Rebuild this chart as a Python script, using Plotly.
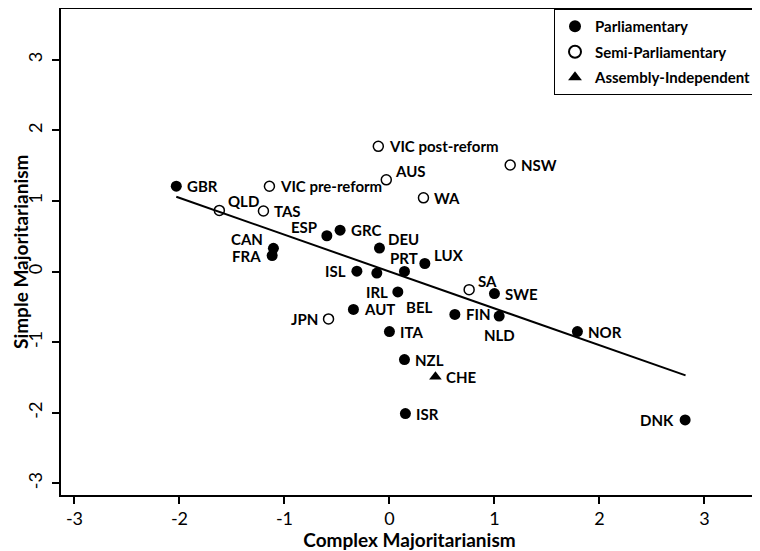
import plotly.graph_objects as go

# ---- data ----
parl_names = ["GBR", "CAN", "FRA", "ESP", "GRC", "DEU", "ISL", "IRL", "PRT", "LUX",
              "BEL", "AUT", "ITA", "NZL", "ISR", "FIN", "SWE", "NLD", "NOR", "DNK"]
parl_x = [-2.03, -1.105, -1.117, -0.596, -0.47, -0.095, -0.31, -0.12, 0.143, 0.337,
          0.08, -0.343, 0.0, 0.143, 0.152, 0.623, 1.0, 1.045, 1.79, 2.816]
parl_y = [1.21, 0.33, 0.227, 0.508, 0.587, 0.334, 0.007, -0.02, 0.003, 0.115,
          -0.288, -0.536, -0.849, -1.246, -2.01, -0.606, -0.311, -0.629, -0.849, -2.10]

semi_names = ["QLD", "VIC pre-reform", "TAS", "VIC post-reform", "AUS", "WA", "NSW", "SA", "JPN"]
semi_x = [-1.62, -1.143, -1.2, -0.106, -0.03, 0.324, 1.15, 0.759, -0.58]
semi_y = [0.867, 1.21, 0.858, 1.775, 1.30, 1.045, 1.51, -0.255, -0.67]

assem_names = ["CHE"]
assem_x = [0.438]
assem_y = [-1.49]

fit_x = [-2.03, 2.82]
fit_y = [1.06, -1.47]

x_ticks = [-3, -2, -1, 0, 1, 2, 3]
y_ticks = [-3, -2, -1, 0, 1, 2, 3]

x_title = "Complex Majoritarianism"
y_title = "Simple Majoritarianism"

# ---- label placement (style) ----
label_pos = {
    "CAN": "ul", "ESP": "ul", "FRA": "l", "ISL": "l", "JPN": "l", "DNK": "l",
    "QLD": "ur", "DEU": "ur", "LUX": "ur", "AUS": "ur", "SA": "ur",
    "PRT": "u", "NLD": "d", "IRL": "d", "BEL": "dr",
}
pos_style = {
    "r":  dict(xanchor="left", yanchor="middle", xshift=9, yshift=0),
    "l":  dict(xanchor="right", yanchor="middle", xshift=-9, yshift=0),
    "ur": dict(xanchor="left", yanchor="middle", xshift=7, yshift=9),
    "ul": dict(xanchor="right", yanchor="middle", xshift=-8, yshift=9),
    "u":  dict(xanchor="center", yanchor="middle", xshift=0, yshift=13),
    "d":  dict(xanchor="center", yanchor="middle", xshift=0, yshift=-19),
    "dr": dict(xanchor="left", yanchor="middle", xshift=6, yshift=-15),
}

FONT = "Lato"

fig = go.Figure()

fig.add_trace(go.Scatter(
    x=fit_x, y=fit_y, mode="lines", line=dict(color="black", width=2),
    showlegend=False, hoverinfo="skip"))

fig.add_trace(go.Scatter(
    x=parl_x, y=parl_y, mode="markers", name="<b>Parliamentary</b>", text=parl_names,
    marker=dict(symbol="circle", size=11, color="black"), legendgroup="a"))
fig.add_trace(go.Scatter(
    x=semi_x, y=semi_y, mode="markers", name="<b>Semi-Parliamentary</b>", text=semi_names,
    marker=dict(symbol="circle-open", size=10, color="black", line=dict(width=1.5)),
    legendgroup="b"))
fig.add_trace(go.Scatter(
    x=assem_x, y=assem_y, mode="markers", name="<b>Assembly-Independent</b>", text=assem_names,
    marker=dict(symbol="triangle-up", size=11, color="black"), legendgroup="c"))

annotations = []
for names, xs, ys in [(parl_names, parl_x, parl_y), (semi_names, semi_x, semi_y),
                      (assem_names, assem_x, assem_y)]:
    for n, xv, yv in zip(names, xs, ys):
        st = pos_style[label_pos.get(n, "r")]
        annotations.append(dict(
            x=xv, y=yv, xref="x", yref="y", text=f"<b>{n}</b>", showarrow=False,
            font=dict(family=FONT, size=15, color="black"), **st))

# y-axis title as a rotated annotation just left of the tick labels
annotations.append(dict(
    x=0, y=0.5, xref="paper", yref="paper", text=f"<b>{y_title}</b>", showarrow=False,
    textangle=-90, xanchor="center", yanchor="middle", xshift=-41,
    font=dict(family=FONT, size=19, color="black")))

fig.update_layout(
    width=752, height=543,
    margin=dict(l=53, r=2, t=1, b=56, autoexpand=False),
    paper_bgcolor="white", plot_bgcolor="white",
    font=dict(family=FONT, color="black"),
    annotations=annotations,
    showlegend=True,
    legend=dict(
        x=1, y=1, xanchor="right", yanchor="top",
        bordercolor="black", borderwidth=1, bgcolor="white",
        font=dict(family=FONT, size=15, color="black"),
        tracegroupgap=3, itemsizing="constant", itemwidth=30,
    ),
    xaxis=dict(
        range=[-3.128, 3.51], tickvals=x_ticks, ticktext=[str(v) for v in x_ticks],
        showgrid=False, zeroline=False, showline=True, mirror=True, automargin=False,
        linecolor="black", linewidth=1.5, ticks="outside", ticklen=7, tickwidth=1.5,
        tickcolor="black", tickfont=dict(family=FONT, size=18),
        title=dict(text=f"<b>{x_title}</b>", font=dict(family=FONT, size=19),
                   standoff=0),
    ),
    yaxis=dict(
        range=[-3.164, 3.72], tickvals=y_ticks, ticktext=[str(v) for v in y_ticks],
        showgrid=False, zeroline=False, showline=True, mirror=True, automargin=False,
        linecolor="black", linewidth=1.5, ticks="outside", ticklen=7, tickwidth=1.5,
        tickcolor="black", tickfont=dict(family=FONT, size=18), tickangle=-90,
        ticklabelstandoff=3,
    ),
)

fig.write_html("out.html")
